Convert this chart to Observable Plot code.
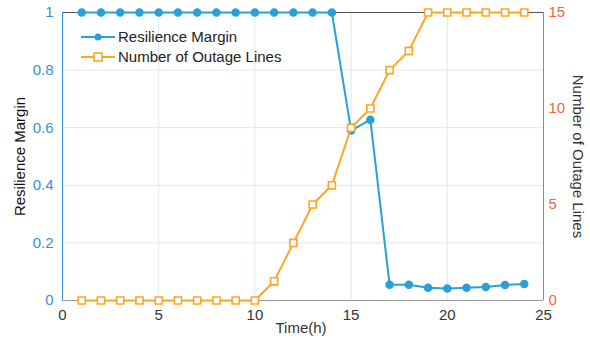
<!DOCTYPE html>
<html>
<head>
<meta charset="utf-8">
<script src="https://cdn.jsdelivr.net/npm/d3@7"></script>
<script src="https://cdn.jsdelivr.net/npm/@observablehq/plot@0.6"></script>
<style>
  html, body { margin: 0; padding: 0; background: #fff; }
  #wrap { position: relative; width: 590px; height: 341px; font-family: "Liberation Sans", Arial, sans-serif; }
  #legend { position: absolute; left: 80px; top: 27px; font-size: 15px; color: #222; line-height: 20px; }
  #legend .row { display: flex; align-items: center; height: 20px; }
  #legend svg { margin-right: 2px; }
</style>
</head>
<body>
<div id="wrap"></div>
<script>
// Hour of day
const hours = [1,2,3,4,5,6,7,8,9,10,11,12,13,14,15,16,17,18,19,20,21,22,23,24];
// Resilience margin per hour
const resilience = [1,1,1,1,1,1,1,1,1,1,1,1,1,1,0.59,0.628,0.055,0.055,0.044,0.042,0.044,0.047,0.054,0.057];
// Number of lines out of service per hour
const outages = [0,0,0,0,0,0,0,0,0,0,1,3,5,6,9,10,12,13,15,15,15,15,15,15];

const xTicks = [0,5,10,15,20,25];
const leftTicks = [0,0.2,0.4,0.6,0.8,1];
const rightTicks = [0,5,10,15];
const outageMax = 15;

const blue = "#2aa0d8";
const orange = "#ffa51f";
const rightAxisColor = "#e8693c";
const leftAxisColor = "#3592d4";

const rows = hours.map((h, i) => ({h, r: resilience[i], n: outages[i], ns: outages[i] / outageMax}));

const chart = Plot.plot({
  width: 590,
  height: 341,
  marginLeft: 62,
  marginRight: 47,
  marginTop: 12,
  marginBottom: 41,
  style: {fontFamily: "Liberation Sans, Arial, sans-serif", fontSize: "15px", background: "#fff"},
  x: {domain: [0, 25]},
  y: {domain: [0, 1]},
  marks: [
    Plot.gridX([5, 10, 15, 20], {stroke: "#dde7f1", strokeOpacity: 1}),
    Plot.gridY([0.2, 0.4, 0.6, 0.8], {stroke: "#dde7f1", strokeOpacity: 1}),
    Plot.ruleY([0], {stroke: "#9a9a9a"}),
    Plot.ruleY([1], {stroke: "#555"}),
    Plot.ruleX([0], {stroke: leftAxisColor}),
    Plot.ruleX([25], {stroke: rightAxisColor}),
    Plot.axisX({ticks: xTicks, tickSize: 0, tickPadding: 9, fill: "#333", label: null}),
    Plot.axisY({ticks: leftTicks, tickSize: 0, tickPadding: 9, fill: leftAxisColor, tickFormat: d => String(d), label: null}),
    Plot.axisY({anchor: "right", ticks: rightTicks.map(t => t / outageMax), tickSize: 0, tickPadding: 5, fill: rightAxisColor, tickFormat: d => String(Math.round(d * outageMax)), label: null}),
    Plot.text(["Resilience Margin"], {frameAnchor: "left", textAnchor: "middle", lineAnchor: "middle", rotate: -90, dx: -42, fill: "#111"}),
    Plot.text(["Number of Outage Lines"], {frameAnchor: "right", textAnchor: "middle", lineAnchor: "middle", rotate: 90, dx: 34, fill: "#333"}),
    Plot.text(["Time(h)"], {frameAnchor: "bottom", textAnchor: "middle", lineAnchor: "middle", dy: 28, dx: -2, fill: "#333"}),
    Plot.line(rows, {x: "h", y: "r", stroke: blue, strokeWidth: 2}),
    Plot.dot(rows, {x: "h", y: "r", r: 3.5, fill: blue, stroke: blue}),
    Plot.line(rows, {x: "h", y: "ns", stroke: orange, strokeWidth: 2}),
    Plot.dot(rows, {x: "h", y: "ns", symbol: "square", r: 4, fill: "#fff", stroke: orange, strokeWidth: 1.6})
  ]
});

const wrap = document.getElementById("wrap");
wrap.appendChild(chart);

const legend = document.createElement("div");
legend.id = "legend";
legend.innerHTML = `
  <div class="row"><svg width="36" height="20"><line x1="1" y1="10" x2="35" y2="10" stroke="${blue}" stroke-width="2"/><circle cx="18" cy="10" r="3.5" fill="${blue}"/></svg><span>Resilience Margin</span></div>
  <div class="row"><svg width="36" height="20"><line x1="1" y1="10" x2="35" y2="10" stroke="${orange}" stroke-width="2"/><rect x="14" y="6" width="8" height="8" fill="#fff" stroke="${orange}" stroke-width="1.6"/></svg><span>Number of Outage Lines</span></div>`;
wrap.appendChild(legend);
</script>
</body>
</html>
